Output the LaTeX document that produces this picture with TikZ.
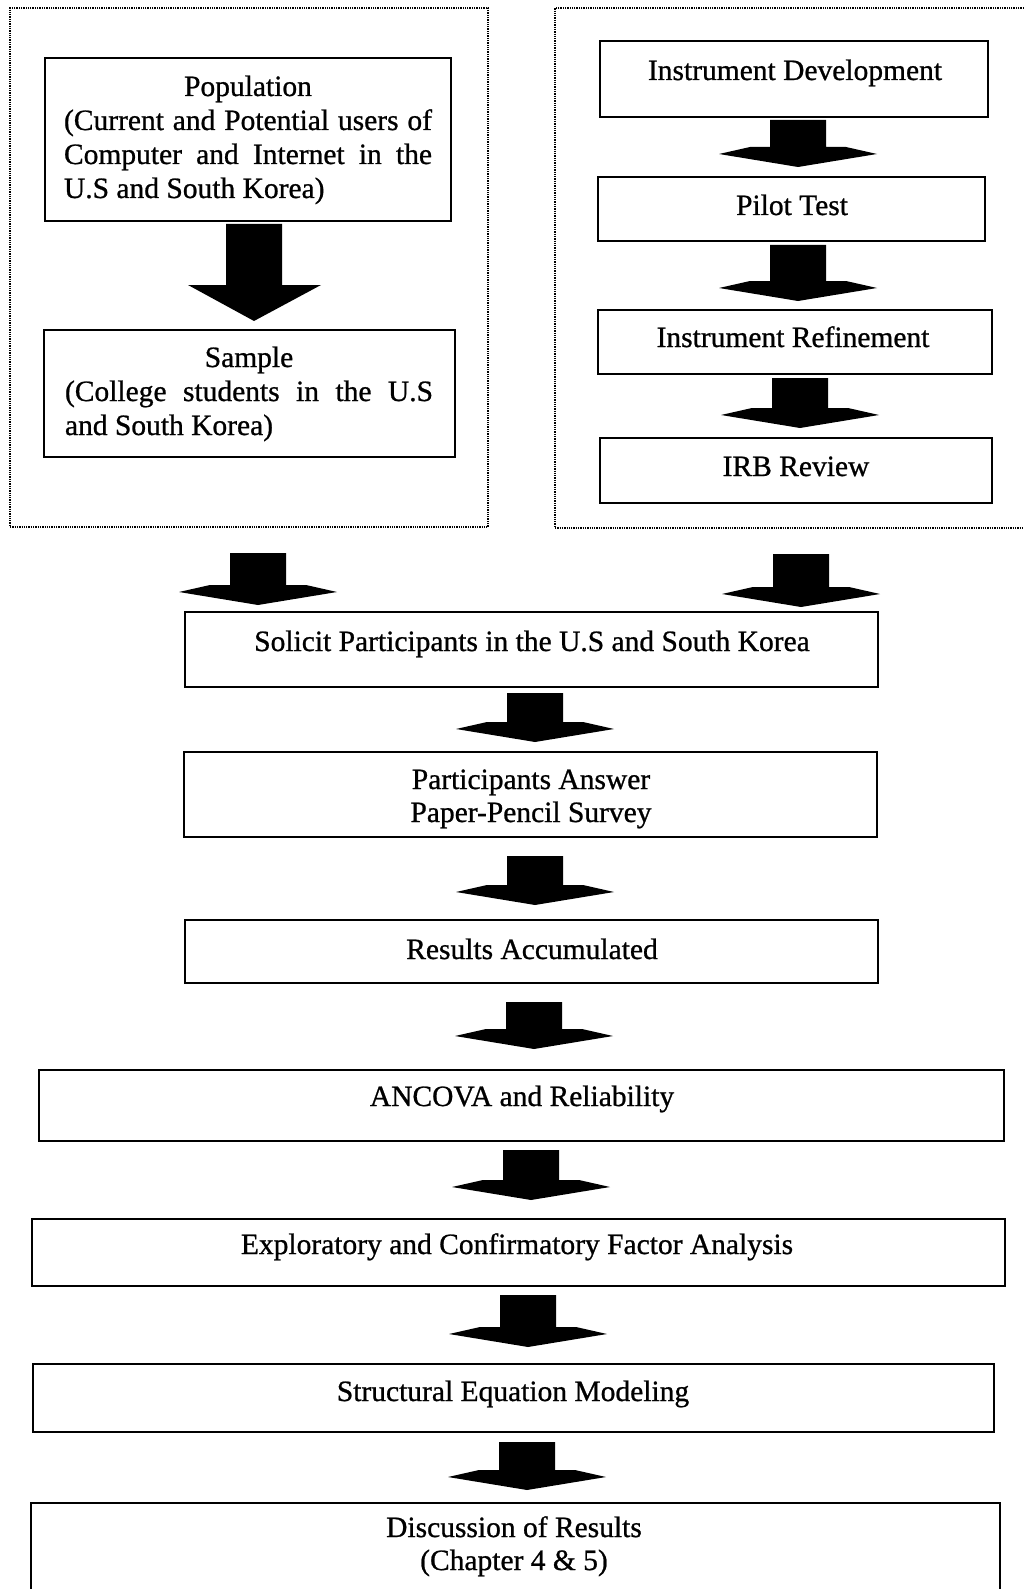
\documentclass[tikz,border=0pt]{standalone}
\usepackage{fontspec}
\setmainfont{Liberation Serif}[FakeBold=0.8]
\usetikzlibrary{calc}

\tikzset{
  stepbox/.style={draw=black, line width=1.6pt, rectangle, inner sep=0pt, outer sep=0pt, anchor=north west},
  groupframe/.style={draw=black, line width=1.3pt, densely dotted, rectangle, inner sep=0pt, outer sep=0pt, anchor=north west},
  steptext/.style={inner sep=0pt, outer sep=0pt, anchor=base, font=\fontsize{29.5}{33}\selectfont},
  arrowfill/.style={fill=black},
}

% rectangle given by its corners (x1,y1) and (x2,y2), y counted downwards
\newcommand\boxnode[6][stepbox]{%
  \node[#1, minimum width={#5-#3}, minimum height={#6-#4}] (#2) at (#3,#4) {};}

% block arrow from node #1 down to node #2, centred at x=#3,
% starting #4 below #1 and ending with its tip #5 above #2
\newcommand\flowarrow[5]{%
  \fill[arrowfill] let \p1=($(#1.south)+(0,#4)$), \p2=($(#2.north)+(0,-#5)$) in
    (#3pt-28pt,\y1) -- (#3pt+28pt,\y1) -- (#3pt+28pt,\y2+20pt) -- (#3pt+48pt,\y2+20pt)
    -- (#3pt+79pt,\y2+13pt) -- (#3pt,\y2) -- (#3pt-79pt,\y2+13pt) -- (#3pt-48pt,\y2+20pt)
    -- (#3pt-28pt,\y2+20pt) -- cycle;}

\begin{document}
\begin{tikzpicture}[x=1pt, y=-1pt]
  \useasboundingbox (0,0) rectangle (1023,1589);
  \fill[white] (0,0) rectangle (1023,1589);

  % the two preparatory groups
  \boxnode[groupframe]{leftgroup}{10}{8}{488}{527}
  \boxnode[groupframe]{rightgroup}{555}{8}{1032}{528}

  % left group: population and sample
  \boxnode{pop}{45}{58}{451}{221}
  \boxnode{sample}{44}{330}{455}{457}
  \node[steptext] (popt) at (248,96) {\parbox[t]{368pt}{\fontsize{29.5}{34}\selectfont\centering
    Population\\
    \makebox[368pt][s]{(Current and Potential users of}\\
    \makebox[368pt][s]{Computer and Internet in the}\\
    \makebox[368pt][l]{U.S and South Korea)}}};
  \node[steptext] (samplet) at (249,367) {\parbox[t]{368pt}{\fontsize{29.5}{34}\selectfont\centering
    Sample\\
    \makebox[368pt][s]{(College students in the U.S}\\
    \makebox[368pt][l]{and South Korea)}}};
  \fill[arrowfill] let \p1=($(pop.south)+(0,3)$), \p2=($(sample.north)+(0,-9)$) in
    (254pt-28pt,\y1) -- (254pt+28pt,\y1) -- (254pt+28pt,\y2+36pt) -- (254pt+67pt,\y2+36pt)
    -- (254pt,\y2) -- (254pt-66pt,\y2+36pt) -- (254pt-28pt,\y2+36pt) -- cycle;

  % right group: instrument steps
  \boxnode{idev}{600}{41}{988}{117}
  \boxnode{pilot}{598}{177}{985}{241}
  \boxnode{refine}{598}{310}{992}{374}
  \boxnode{irb}{600}{438}{992}{503}
  \node[steptext] (idevt) at (795,80) {Instrument Development};
  \node[steptext] (pilott) at (792,215) {Pilot Test};
  \node[steptext] (refinet) at (793,347) {Instrument Refinement};
  \node[steptext] (irbt) at (796,476) {IRB Review};
  \flowarrow{idev}{pilot}{798}{3}{10}
  \flowarrow{pilot}{refine}{798}{4}{9}
  \flowarrow{refine}{irb}{800}{4}{10}

  % main sequence
  \boxnode{solicit}{185}{612}{878}{687}
  \boxnode{answer}{184}{752}{877}{837}
  \boxnode{results}{185}{920}{878}{983}
  \boxnode{ancova}{39}{1070}{1004}{1141}
  \boxnode{factor}{32}{1219}{1005}{1286}
  \boxnode{sem}{33}{1364}{994}{1432}
  \boxnode{discuss}{31}{1503}{1000}{1640}

  \node[steptext] (solicitt) at (532,651) {Solicit Participants in the U.S and South Korea};
  \node[steptext] (answert) at (531,789) {\parbox[t]{500pt}{\centering
    Participants Answer\\ Paper-Pencil Survey}};
  \node[steptext] (resultst) at (532,959) {Results Accumulated};
  \node[steptext] (ancovat) at (522,1106) {ANCOVA and Reliability};
  \node[steptext] (factort) at (517,1254) {Exploratory and Confirmatory Factor Analysis};
  \node[steptext] (semt) at (513,1401) {Structural Equation Modeling};
  \node[steptext] (discusst) at (514,1537) {\parbox[t]{500pt}{\centering
    Discussion of Results\\ (Chapter 4 \& 5)}};

  \flowarrow{leftgroup}{solicit}{258}{26}{7}
  \flowarrow{rightgroup}{solicit}{801}{26}{5}
  \flowarrow{solicit}{answer}{535}{6}{10}
  \flowarrow{answer}{results}{535}{19}{15}
  \flowarrow{results}{ancova}{534}{19}{21}
  \flowarrow{ancova}{factor}{531}{9}{19}
  \flowarrow{factor}{sem}{528}{9}{17}
  \flowarrow{sem}{discuss}{527}{10}{13}
\end{tikzpicture}
\end{document}
